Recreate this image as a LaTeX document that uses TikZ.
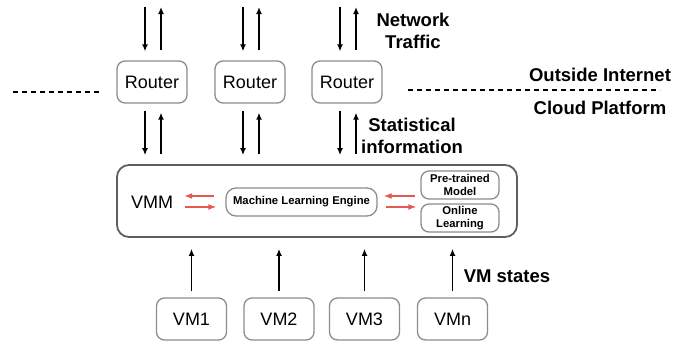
\documentclass[tikz,border=0pt]{standalone}
\usepackage{fontspec}
\setmainfont{Liberation Sans}
\usepackage{xcolor}
\usetikzlibrary{positioning,arrows.meta,calc}

\definecolor{boxgray}{RGB}{140,140,140}
\definecolor{framegray}{RGB}{95,95,95}
\definecolor{arrred}{RGB}{232,88,82}

\begin{document}
\begin{tikzpicture}[x=1pt, y=-1pt,
    devbox/.style={draw=boxgray, line width=1.3pt, rounded corners=8pt, minimum width=70pt, minimum height=42pt, inner sep=0pt, font=\fontsize{18}{20}\selectfont},
    subbox/.style={draw=boxgray, line width=1.3pt, rounded corners=8pt, minimum width=78pt, minimum height=28pt, inner sep=0pt, align=center, font=\fontsize{11.3}{13}\selectfont\bfseries},
    flow/.style={-{Latex[length=7pt,width=6pt]}, line width=1.4pt},
    ctl/.style={-{Latex[length=8pt,width=6pt]}, draw=arrred, line width=1.3pt},
    divider/.style={line width=1.6pt, dash pattern=on 5pt off 4pt},
    lbl/.style={align=center, font=\fontsize{18.5}{22.5}\selectfont\bfseries}]
    \useasboundingbox (0,0) rectangle (688,341);

    \node[draw=framegray, line width=1.8pt, rounded corners=12pt, minimum width=400pt, minimum height=72pt] (vmm) at (317,201) {};
    \node[inner sep=0pt, font=\fontsize{18}{20}\selectfont] (vmmtxt) at (152,202) {VMM};
    \node[subbox, minimum width=151pt, rounded corners=10pt] (mle) at (301.5,202) {Machine Learning Engine};
    \node[subbox] (ptm) at (460,185) {Pre-trained\\Model};
    \node[subbox] (onl) at (460,218) {Online\\Learning};

    \coordinate (top) at (0,7);
    \foreach \r/\x in {r1/152, r2/250, r3/347} {
        \node[devbox] (\r) at (\x,82) {Router};
        \coordinate (\r-a) at ([xshift=-7pt]\r.north);
        \coordinate (\r-b) at ([xshift=9pt]\r.north);
        \coordinate (\r-c) at ([xshift=-7pt]\r.south);
        \coordinate (\r-d) at ([xshift=9pt]\r.south);
        \draw[flow, shorten >=9pt] (\r-a |- top) -- (\r-a);
        \draw[flow, shorten <=10pt] (\r-b) -- (\r-b |- top);
        \draw[flow, shorten <=7pt, shorten >=9pt] (\r-c) -- (\r-c |- vmm.north);
        \draw[flow, shorten <=10pt, shorten >=9pt] (\r-d |- vmm.north) -- (\r-d);
    }

    \foreach \v/\x/\t in {vm1/191.5/VM1, vm2/279/VM2, vm3/364.5/VM3, vmn/452.5/VMn} {
        \node[devbox] (\v) at (\x,319) {\t};
        \draw[flow, shorten <=6pt, shorten >=11pt] (\v.north) -- (\v.north |- vmm.south);
    }

    \coordinate (mlw1) at ([yshift=6pt]mle.west);
    \coordinate (mlw2) at ([yshift=-5pt]mle.west);
    \coordinate (mle1) at ([yshift=6pt]mle.east);
    \coordinate (mle2) at ([yshift=-5pt]mle.east);
    \draw[ctl, shorten <=11pt, shorten >=11pt] (mlw1) -- (mlw1 -| vmmtxt.east);
    \draw[ctl, shorten <=12pt, shorten >=9pt] (mlw2 -| vmmtxt.east) -- (mlw2);
    \draw[ctl, shorten <=5pt, shorten >=6pt] (mle1 -| ptm.west) -- (mle1);
    \draw[ctl, shorten <=8pt, shorten >=4pt] (mle2) -- (mle2 -| onl.west);

    \draw[divider] (13,92) -- (100,92);
    \draw[divider] (408,90) -- (660,90);

    \node[lbl] (traffic) at (413,31) {Network\\Traffic};
    \node[lbl] (stat) at (412,136) {Statistical\\information};
    \node[lbl] (outside) at (600,75) {Outside Internet};
    \node[lbl] (cloud) at (600,108) {Cloud Platform};
    \node[lbl] (vmstate) at (507,276) {VM states};
\end{tikzpicture}
\end{document}
